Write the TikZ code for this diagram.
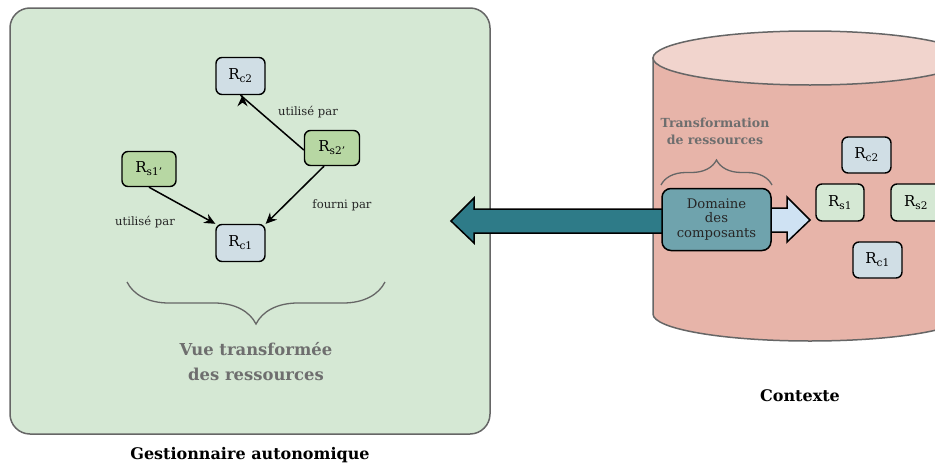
\documentclass[tikz,border=0pt]{standalone}
\usepackage{fontspec}
\setmainfont{DejaVu Serif}
\usetikzlibrary{arrows.meta,decorations.pathreplacing}
\definecolor{gbox}{HTML}{D5E8D4}
\definecolor{gborder}{HTML}{666666}
\definecolor{cylbody}{HTML}{E7B4A9}
\definecolor{cyltop}{HTML}{F1D4CD}
\definecolor{rcfill}{HTML}{D0DEE5}
\definecolor{rspfill}{HTML}{B7D7A3}
\definecolor{rsfill}{HTML}{D5E8D4}
\definecolor{domfill}{HTML}{6FA3AD}
\definecolor{teal}{HTML}{2E7B88}
\definecolor{lblue}{HTML}{CFE2F3}
\definecolor{graytxt}{HTML}{6E6E6E}
\tikzset{
  res/.style={draw=black, line width=1.4pt, rounded corners=6pt, minimum width=49pt, minimum height=37pt, inner sep=1pt, font=\fontsize{15}{17}\selectfont},
  rc/.style={res, fill=rcfill},
  rsp/.style={res, fill=rspfill, minimum width=55pt, minimum height=35pt},
  rs/.style={res, fill=rsfill, minimum width=48pt},
  edgelbl/.style={font=\fontsize{11.6}{13}\selectfont, text=black!85},
  conn/.style={line width=1.5pt, -{Stealth[length=11pt,width=10pt]}},
  graylbl/.style={font=\bfseries\fontsize{12.5}{17}\selectfont, text=graytxt, align=center},
  bigbrace/.style={decorate, decoration={brace, amplitude=#1}, draw=gborder, line width=1.3pt},
  title/.style={font=\bfseries\fontsize{16}{18}\selectfont}
}
\begin{document}
\begin{tikzpicture}[x=1pt,y=-1pt]
\useasboundingbox (0,0) rectangle (935,466);
\clip (0,0) rectangle (935,466);
% green box
\draw[fill=gbox, draw=gborder, line width=1.5pt, rounded corners=20pt] (10,8) rectangle (490,434);
% cylinder
\path[fill=cylbody, draw=gborder, line width=1.5pt] (653,58) -- (653,314) arc[start angle=180, end angle=360, x radius=157pt, y radius=27pt] -- (967,58) -- cycle;
\draw[fill=cyltop, draw=gborder, line width=1.5pt] (810,58) ellipse[x radius=157pt, y radius=27pt];
% resources in autonomic manager
\node[rc] (rc2) at (240.5,76) {R\textsubscript{c2}};
\node[rsp] (rs2p) at (332,148) {R\textsubscript{s2’}};
\node[rsp, minimum width=54pt] (rs1p) at (149,169) {R\textsubscript{s1’}};
\node[rc] (rc1) at (240.5,243) {R\textsubscript{c1}};
\draw[conn] (rs2p.west) ++(0,2) -- (rc2.south) ++(2,0);
\draw[conn] (rs2p.south) ++(-8,0) coordinate (a1) (a1) -- (rc1.north east);
\draw[conn] (rs1p.south) -- (rc1.north west);
\node[edgelbl] (l1) at (308,112) {utilisé par};
\node[edgelbl] (l2) at (342,205) {fourni par};
\node[edgelbl] (l3) at (145,222) {utilisé par};
% brace in green box
\draw[bigbrace=42pt] (385,282) -- (127,282);
\node[graylbl, font=\bfseries\fontsize{16.4}{25}\selectfont] (vue) at (256,362) {Vue transformée\\des ressources};
% big left arrow
\draw[fill=teal, line width=1.5pt, line join=miter] (690,209) -- (474,209) -- (474,198) -- (451,221) -- (474,243) -- (474,233) -- (690,233);
% right light arrow
\draw[fill=lblue, line width=1.5pt, line join=miter] (760,208) -- (787,208) -- (787,197) -- (810,220) -- (787,242) -- (787,232) -- (760,232) -- cycle;
% domaine
\node[draw=black, line width=1.5pt, fill=domfill, rounded corners=9pt, minimum width=109pt, minimum height=62pt, align=center, font=\fontsize{13.2}{14.5}\selectfont, text=black!85] (dom) at (716.5,219.5) {Domaine\\des\\composants};
\draw[bigbrace=25pt] (661,185) -- (772,185);
\node[graylbl] (tr) at (715,131) {Transformation\\de ressources};
% resources in context
\node[rc, minimum height=36pt] (crc2) at (866.5,155) {R\textsubscript{c2}};
\node[rs] (crs1) at (840,202.5) {R\textsubscript{s1}};
\node[rs, minimum width=50pt] (crs2) at (916,202.5) {R\textsubscript{s2}};
\node[rc, minimum height=36pt] (crc1) at (877.5,260) {R\textsubscript{c1}};
% titles
\node[title] (ga) at (250,455) {Gestionnaire autonomique};
\node[title] (ctx) at (800,396) {Contexte};
\end{tikzpicture}
\end{document}
